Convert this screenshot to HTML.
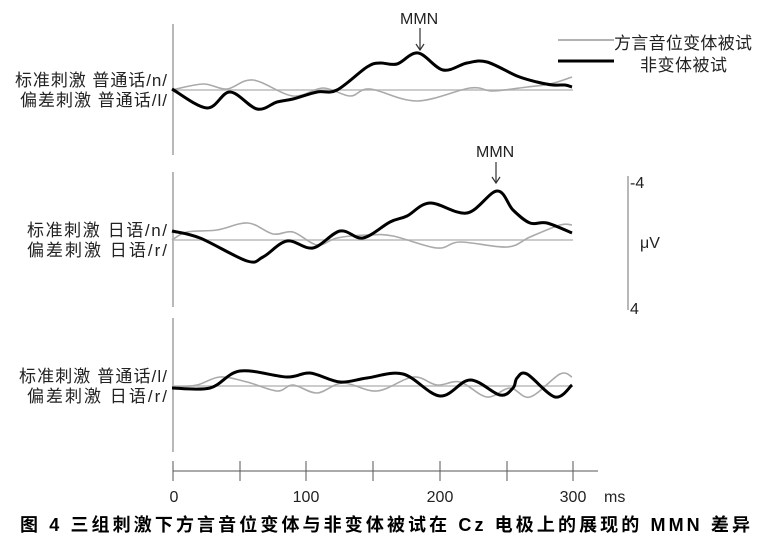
<!DOCTYPE html>
<html><head><meta charset="utf-8"><style>
body{margin:0;background:#fff;}
svg{display:block;font-family:"Liberation Sans","Noto Sans CJK SC",sans-serif;}
</style></head><body>
<svg id="s" width="772" height="542" viewBox="0 0 772 542">
<g stroke="#888" stroke-width="1.2" fill="none">
<line x1="173" y1="24" x2="173" y2="155"/>
<line x1="173" y1="172" x2="173" y2="307"/>
<line x1="173" y1="318" x2="173" y2="452"/>
<line x1="628" y1="176" x2="628" y2="310"/>
</g>
<g stroke="#bbb" stroke-width="1.5">
<line x1="173" y1="90" x2="573" y2="90"/>
<line x1="173" y1="240" x2="573" y2="240"/>
<line x1="173" y1="386" x2="573" y2="386"/>
</g>
<g stroke="#555" stroke-width="1">
<line x1="173" y1="471" x2="598" y2="471"/>
<line x1="173" y1="461" x2="173" y2="481"/><line x1="240" y1="461" x2="240" y2="481"/>
<line x1="306" y1="461" x2="306" y2="481"/><line x1="373" y1="461" x2="373" y2="481"/>
<line x1="440" y1="461" x2="440" y2="481"/><line x1="507" y1="461" x2="507" y2="481"/>
<line x1="573" y1="461" x2="573" y2="481"/>
</g>
<g fill="none" stroke="#aaa" stroke-width="1.6" stroke-linejoin="round">
<polyline class="c" points="172,90 203,84 227,89 253,80 293,96 323,88 350,96 370,89 417,101 470,88 493,91 527,87 550,84 572,77"/>
<polyline class="c" points="172,240 187,232 217,230 248,223 273,234 293,232 317,245 337,238 367,235 393,236 437,248 460,242 507,247 530,237 560,225 572,225"/>
<polyline class="c" points="172,387 197,385 220,377 247,382 277,391 293,385 317,393 343,383 377,391 413,377 437,385 460,382 487,397 510,388 530,397 560,374 572,377"/>
</g>
<g fill="none" stroke="#000" stroke-width="3" stroke-linejoin="round">
<polyline class="c" points="172,89 207,108 230,92 257,109 277,102 293,99 317,92 337,90 367,67 380,63 397,64 418,53 443,70 467,63 487,62 517,76 537,82 553,85 565,85 572,87"/>
<polyline class="c" points="172,231 200,238 247,261 263,257 287,241 313,248 340,231 363,238 390,222 407,216 430,203 467,213 497,191 513,210 530,223 547,223 572,233"/>
<polyline class="c" points="172,388 210,388 240,371 287,377 310,373 340,382 367,378 403,374 440,396 470,380 500,395 513,388 517,378 527,374 555,397 572,385"/>
</g>
<line x1="558" y1="40" x2="614" y2="40" stroke="#999" stroke-width="1.5"/>
<line x1="558" y1="61" x2="614" y2="61" stroke="#000" stroke-width="3"/>
<g font-size="17" fill="#222">
<text x="614" y="49" textLength="138">方言音位变体被试</text>
<text x="640" y="71" textLength="87">非变体被试</text>
<g text-anchor="end">
<text x="167" y="86" textLength="152">标准刺激 普通话/n/</text>
<text x="167" y="106" textLength="147">偏差刺激 普通话/l/</text>
<text x="167" y="236" textLength="140">标准刺激 日语/n/</text>
<text x="167" y="256" textLength="140">偏差刺激 日语/r/</text>
<text x="167" y="382" textLength="148">标准刺激 普通话/l/</text>
<text x="167" y="402" textLength="140">偏差刺激 日语/r/</text>
</g>
</g>
<g font-size="16" fill="#222">
<text x="400" y="24">MMN</text>
<text x="476" y="157">MMN</text>
<text x="630" y="188">-4</text>
<text x="640" y="248">μV</text>
<text x="630" y="314">4</text>
<g text-anchor="middle">
<text x="174" y="502">0</text><text x="306" y="502">100</text>
<text x="440" y="502">200</text><text x="573" y="502">300</text>
</g>
<text x="604" y="502">ms</text>
</g>
<g stroke="#333" stroke-width="1.2" fill="none">
<line x1="420" y1="28" x2="420" y2="50"/><polyline points="416,44 420,50 424,44"/>
<line x1="496" y1="162" x2="496" y2="183"/><polyline points="492,177 496,183 500,177"/>
</g>
<text x="20" y="531" font-size="18" font-weight="bold" fill="#000" textLength="730" lengthAdjust="spacing">图 4  三组刺激下方言音位变体与非变体被试在 Cz 电极上的展现的 MMN 差异</text>
</svg>
<script>
document.querySelectorAll('polyline.c').forEach(function(pl){
var p=pl.getAttribute('points').trim().split(/\s+/).map(function(s){return s.split(',').map(Number);});
var d='M'+p[0][0]+','+p[0][1];
for(var i=0;i<p.length-1;i++){
var a=p[i-1]||p[i],b=p[i],c=p[i+1],e=p[i+2]||c;
var c1=[b[0]+(c[0]-a[0])/6,b[1]+(c[1]-a[1])/6],c2=[c[0]-(e[0]-b[0])/6,c[1]-(e[1]-b[1])/6];
d+=' C'+c1[0].toFixed(1)+','+c1[1].toFixed(1)+' '+c2[0].toFixed(1)+','+c2[1].toFixed(1)+' '+c[0]+','+c[1];}
var path=document.createElementNS('http://www.w3.org/2000/svg','path');
path.setAttribute('d',d);pl.parentNode.replaceChild(path,pl);});
</script>
</body></html>
